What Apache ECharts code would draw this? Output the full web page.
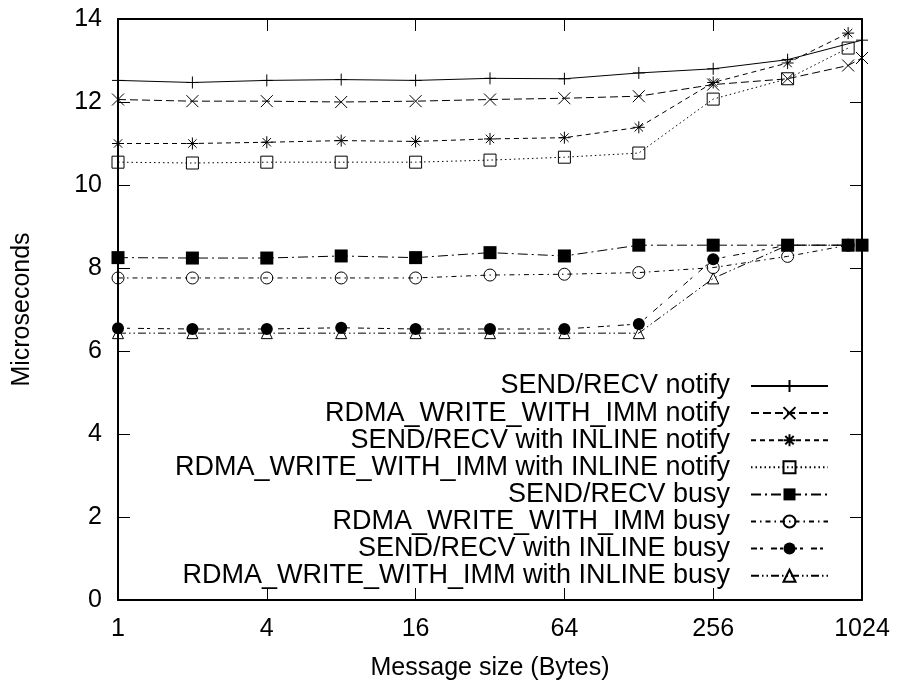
<!DOCTYPE html>
<html>
<head>
<meta charset="utf-8">
<script src="https://cdn.jsdelivr.net/npm/echarts@6/dist/echarts.min.js"></script>
<style>
html,body{margin:0;padding:0;background:#fff;}
#chart{width:898px;height:686px;}
</style>
</head>
<body>
<div id="chart"></div>
<script>
// Message sizes (bytes)
const xFull = [1, 2, 4, 8, 16, 32, 64, 128, 256, 512, 1024];
const xNine = [1, 2, 4, 8, 16, 32, 64, 128, 256, 512, 900];
const xNineFull = [1, 2, 4, 8, 16, 32, 64, 128, 256, 512, 900, 1024];

const seriesNames = [
  'SEND/RECV notify',
  'RDMA_WRITE_WITH_IMM notify',
  'SEND/RECV with INLINE notify',
  'RDMA_WRITE_WITH_IMM with INLINE notify',
  'SEND/RECV busy',
  'RDMA_WRITE_WITH_IMM busy',
  'SEND/RECV with INLINE busy',
  'RDMA_WRITE_WITH_IMM with INLINE busy'
];

// Microseconds
const sendNotify       = [12.52, 12.47, 12.52, 12.54, 12.52, 12.57, 12.56, 12.70, 12.80, 13.02, 13.49];
const rdmaNotify       = [12.06, 12.02, 12.02, 12.00, 12.02, 12.06, 12.09, 12.14, 12.42, 12.56, 12.88, 13.06];
const sendInlineNotify = [11.00, 11.00, 11.03, 11.07, 11.05, 11.11, 11.14, 11.39, 12.47, 12.94, 13.66];
const rdmaInlineNotify = [10.55, 10.53, 10.55, 10.55, 10.55, 10.60, 10.67, 10.77, 12.07, 12.56, 13.30];
const sendBusy         = [8.25, 8.24, 8.24, 8.29, 8.25, 8.37, 8.29, 8.55, 8.55, 8.55, 8.55, 8.55];
const rdmaBusy         = [7.76, 7.76, 7.76, 7.76, 7.76, 7.83, 7.85, 7.89, 8.01, 8.28, 8.55];
const sendInlineBusy   = [6.55, 6.53, 6.53, 6.56, 6.53, 6.53, 6.53, 6.65, 8.21, 8.55, 8.55];
const rdmaInlineBusy   = [6.43, 6.43, 6.43, 6.43, 6.43, 6.43, 6.43, 6.43, 7.75, 8.55, 8.55];

const yTicks = [0, 2, 4, 6, 8, 10, 12, 14];

const FONT = 'Liberation Sans';
const zip = (xs, ys) => ys.map((v, i) => [xs[i], v]);

const PLUS = 'path://M0,6H12M6,0V12';
const CROSS = 'path://M0,0L12,12M12,0L0,12';
const STAR = 'path://M0,6H12M6,0V12M1.8,1.8L10.2,10.2M10.2,1.8L1.8,10.2';

const hollow = {color: 'rgba(0,0,0,0)', borderColor: '#000', borderWidth: 1};
const filled = {color: '#000', borderColor: '#000', borderWidth: 0};
const stroked = {color: 'rgba(0,0,0,0)', borderColor: '#000', borderWidth: 1};

const defs = [
  {data: zip(xFull, sendNotify), symbol: PLUS, size: 12, item: stroked, dash: 'solid'},
  {data: zip(xNineFull, rdmaNotify), symbol: CROSS, size: 12, item: stroked, dash: [8, 4]},
  {data: zip(xNine, sendInlineNotify), symbol: STAR, size: 12, item: stroked, dash: [5, 4]},
  {data: zip(xNine, rdmaInlineNotify), symbol: 'rect', size: 12, item: hollow, dash: [1.5, 3]},
  {data: zip(xNineFull, sendBusy), symbol: 'rect', size: 13, item: filled, dash: [10, 4, 2, 4]},
  {data: zip(xNine, rdmaBusy), symbol: 'circle', size: 12, item: hollow, dash: [5, 4, 1.5, 4]},
  {data: zip(xNine, sendInlineBusy), symbol: 'circle', size: 12, item: filled, dash: [6, 3, 3, 8]},
  {data: zip(xNine, rdmaInlineBusy), symbol: 'triangle', size: 11, item: hollow, dash: [8, 3, 1.5, 3, 1.5, 3]}
];

const series = defs.map((d, i) => ({
  name: seriesNames[i],
  type: 'line',
  xAxisIndex: 0,
  yAxisIndex: 0,
  data: d.data,
  symbol: d.symbol,
  symbolSize: d.size,
  showAllSymbol: true,
  animation: false,
  itemStyle: d.item,
  lineStyle: {color: '#000', width: 1, type: d.dash},
  emphasis: {disabled: true}
}));

const rowTop = 386, rowGap = 27.1;
const legends = seriesNames.map((n, i) => ({
  data: [n],
  orient: 'vertical',
  align: 'right',
  right: 69,
  top: rowTop + i * rowGap - 13.5,
  padding: 0,
  itemWidth: 77,
  itemHeight: 15,
  selectedMode: false,
  textStyle: {fontFamily: FONT, fontSize: 27, color: '#000', padding: [0, 16, 0, 0]}
}));

const axisLine = {show: true, lineStyle: {color: '#000', width: 2}};
const labelStyle = {fontFamily: FONT, fontSize: 25, color: '#000'};

const option = {
  backgroundColor: '#fff',
  animation: false,
  grid: {left: 118, right: 36, top: 19, bottom: 84, containLabel: false},
  legend: legends,
  xAxis: [
    {type: 'log', logBase: 2, min: 1, max: 1024, splitNumber: 10, position: 'bottom',
     axisLine: axisLine, axisTick: {show: true, inside: true, length: 5, lineStyle: {color: '#000', width: 1}},
     axisLabel: {show: false}, splitLine: {show: false},
     name: 'Message size (Bytes)', nameLocation: 'middle', nameGap: 56,
     nameTextStyle: {fontFamily: FONT, fontSize: 25, color: '#000'}},
    {type: 'log', logBase: 4, min: 1, max: 1024, splitNumber: 5, position: 'bottom',
     axisLine: {show: false}, axisTick: {show: true, inside: true, length: 12, lineStyle: {color: '#000', width: 1}},
     axisLabel: Object.assign({show: true, margin: 17, formatter: v => String(Math.round(v))}, labelStyle),
     splitLine: {show: false}},
    {type: 'log', logBase: 2, min: 1, max: 1024, splitNumber: 10, position: 'top',
     axisLine: axisLine, axisTick: {show: true, inside: true, length: 5, lineStyle: {color: '#000', width: 1}},
     axisLabel: {show: false}, splitLine: {show: false}},
    {type: 'log', logBase: 4, min: 1, max: 1024, splitNumber: 5, position: 'top',
     axisLine: {show: false}, axisTick: {show: true, inside: true, length: 12, lineStyle: {color: '#000', width: 1}},
     axisLabel: {show: false}, splitLine: {show: false}}
  ],
  yAxis: [
    {type: 'value', min: yTicks[0], max: yTicks[yTicks.length - 1], interval: 2, position: 'left',
     axisLine: axisLine, axisTick: {show: true, inside: true, length: 12, lineStyle: {color: '#000', width: 1}},
     axisLabel: Object.assign({show: true, margin: 16}, labelStyle), splitLine: {show: false},
     name: 'Microseconds', nameLocation: 'middle', nameGap: 83,
     nameTextStyle: {fontFamily: FONT, fontSize: 25, color: '#000'}},
    {type: 'value', min: yTicks[0], max: yTicks[yTicks.length - 1], interval: 2, position: 'right',
     axisLine: axisLine, axisTick: {show: true, inside: true, length: 12, lineStyle: {color: '#000', width: 1}},
     axisLabel: {show: false}, splitLine: {show: false}}
  ],
  series: series
};

const chart = echarts.init(document.getElementById('chart'), null, {renderer: 'canvas'});
chart.setOption(option);
</script>
</body>
</html>
